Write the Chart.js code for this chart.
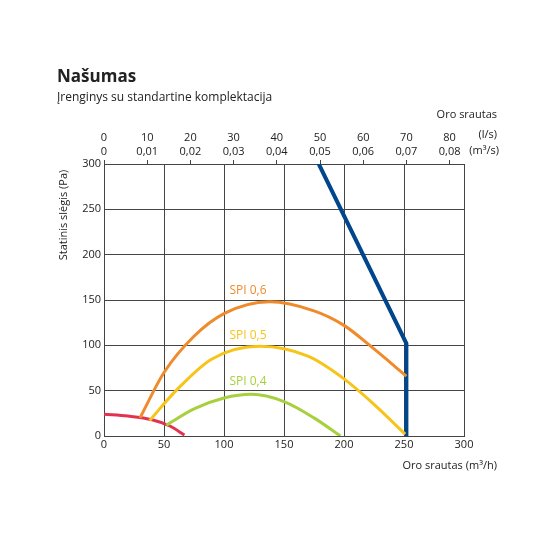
<!DOCTYPE html>
<html>
<head>
<meta charset="utf-8">
<script src="https://cdn.jsdelivr.net/npm/chart.js@4"></script>
<style>
  body { margin: 0; background: #fff; font-family: "Open Sans", sans-serif; }
  #wrap { position: relative; width: 550px; height: 550px; }
  #title { position: absolute; left: 57px; top: 64px; font-size: 17px; font-weight: bold; color: #222; }
  #sub { position: absolute; left: 57px; top: 88px; font-size: 12px; color: #222; }
  canvas { position: absolute; left: 0; top: 0; }
</style>
</head>
<body>
<div id="wrap">
  <canvas id="chart" width="550" height="550"></canvas>
  <div id="title">Našumas</div>
  <div id="sub">Įrenginys su standartine komplektacija</div>
</div>
<script>
// Curves: x = air flow (m3/h), y = static pressure (Pa)
const spi06 = [[30, 20], [50, 70], [75, 110], [100, 135], [138, 148], [175, 138], [200, 122], [225, 96], [252, 66]];
const spi05 = [[38, 17], [60, 50], [90, 85], [130, 99], [170, 88], [200, 63], [225, 35], [251, 2]];
const spi04 = [[52, 12], [75, 30], [100, 42], [123, 46], [150, 38], [175, 20], [197, 0]];
const minCurve = [[0, 24], [20, 22], [40, 18], [55, 11], [67, 1]];
const maxCurve = [[179, 300], [252, 102], [252, 0]];

const curveLabels = ["SPI 0,6", "SPI 0,5", "SPI 0,4"];
const labelPos = [[120, 160], [120, 111], [120, 60]];
const colors = ["#ef8b2c", "#f7c41a", "#a8d03e", "#e1334f", "#00468c"];

const lsTicks = [0, 10, 20, 30, 40, 50, 60, 70, 80];
const m3sTicks = ["0", "0,01", "0,02", "0,03", "0,04", "0,05", "0,06", "0,07", "0,08"];

const toPts = arr => arr.map(p => ({ x: p[0], y: p[1] }));
const font = { family: "Open Sans", size: 11 };

const overlay = {
    id: "overlay",
    afterDraw(chart) {
        const ctx = chart.ctx;
        const xs = chart.scales.x, ys = chart.scales.y;
        ctx.save();
        ctx.font = "12px 'Open Sans'";
        curveLabels.forEach((t, i) => {
            ctx.fillStyle = colors[i];
            ctx.textAlign = "center";
            ctx.textBaseline = "middle";
            ctx.fillText(t, xs.getPixelForValue(labelPos[i][0]), ys.getPixelForValue(labelPos[i][1]));
        });
        ctx.fillStyle = "#222";
        ctx.font = "11px 'Open Sans'";
        ctx.textAlign = "right";
        ctx.fillText("Oro srautas", 497, 115);
        ctx.fillText("(l/s)", 497, 135);
        ctx.fillText("(m³/s)", 499, 151);
        ctx.fillText("Oro srautas (m³/h)", 497, 466);
        ctx.translate(64, 215);
        ctx.rotate(-Math.PI / 2);
        ctx.textAlign = "center";
        ctx.fillText("Statinis slėgis (Pa)", 0, 0);
        ctx.restore();
    }
};

const mk = (data, i, w) => ({
    data: toPts(data), borderColor: colors[i], borderWidth: w || 3,
    pointRadius: 0, tension: 0.4, fill: false, cubicInterpolationMode: "monotone"
});

new Chart(document.getElementById("chart"), {
    type: "line",
    data: {
        datasets: [mk(spi06, 0), mk(spi05, 1), mk(spi04, 2), mk(minCurve, 3),
            Object.assign(mk(maxCurve, 4, 4), { tension: 0, cubicInterpolationMode: "default" })]
    },
    options: {
        responsive: false,
        animation: false,
        layout: { padding: { left: 0, right: 86, top: 0, bottom: 0 } },
        plugins: { legend: { display: false }, tooltip: { enabled: false } },
        scales: {
            x: {
                type: "linear", min: 0, max: 300,
                ticks: { stepSize: 50, color: "#222", font: font, padding: 2 },
                grid: { color: "#444", tickLength: 0 },
                border: { color: "#444" },
                afterFit: s => { s.height = 114; }
            },
            x2: {
                type: "linear", position: "top", min: 0, max: 300 / 3.6,
                afterBuildTicks: s => { s.ticks = lsTicks.map(v => ({ value: v })); },
                ticks: {
                    color: "#222", font: font, padding: 2, maxRotation: 0,
                    callback: (v) => [String(v), m3sTicks[lsTicks.indexOf(v)]]
                },
                grid: { drawOnChartArea: false, color: "#444", tickLength: 4 },
                border: { color: "#444" },
                afterFit: s => { s.height = 164; }
            },
            y: {
                min: 0, max: 300,
                ticks: { stepSize: 50, color: "#222", font: font, padding: 3 },
                grid: { color: "#444", tickLength: 0 },
                border: { color: "#444" },
                afterFit: s => { s.width = 104; }
            },
            y2: {
                position: "right", min: 0, max: 300, display: true,
                ticks: { display: false },
                grid: { drawOnChartArea: false, tickLength: 0 },
                border: { color: "#444" },
                afterFit: s => { s.width = 0; }
            }
        }
    },
    plugins: [overlay]
});
</script>
</body>
</html>
